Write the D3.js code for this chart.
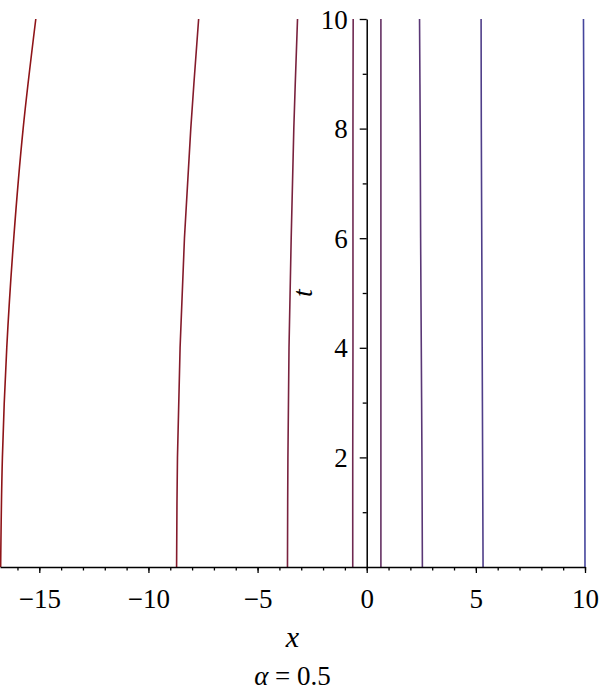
<!DOCTYPE html>
<html>
<head>
<meta charset="utf-8">
<script src="https://cdn.jsdelivr.net/npm/d3@7"></script>
<style>
  body { margin: 0; background: #fff; }
</style>
</head>
<body>
<div id="plotarea"></div>
<script>
var tValues = [0, 2, 4, 6, 8, 10];

// x position of each contour at those t values (left to right)
var contour1 = [-16.77, -16.69, -16.49, -16.17, -15.74, -15.16];
var contour2 = [-8.71, -8.67, -8.55, -8.35, -8.06, -7.70];
var contour3 = [-3.63, -3.61, -3.56, -3.46, -3.34, -3.17];
var contour4 = [-0.64, -0.64, -0.63, -0.63, -0.63, -0.62];
var contour5 = [0.65, 0.65, 0.65, 0.65, 0.65, 0.65];
var contour6 = [2.55, 2.53, 2.50, 2.47, 2.45, 2.42];
var contour7 = [5.33, 5.31, 5.29, 5.27, 5.25, 5.24];
var contour8 = [10.0, 9.99, 9.98, 9.96, 9.95, 9.93];

var contours = [contour1, contour2, contour3, contour4, contour5, contour6, contour7, contour8];

var xMajor = [-15, -10, -5, 0, 5, 10];
var xMinor = d3.range(-16, 11);
var tMajor = [2, 4, 6, 8, 10];
var tMinor = [1, 3, 5, 7, 9];

var serif = '"Times New Roman", "Liberation Serif", Tinos, serif';

var svg = d3.select('#plotarea').append('svg')
  .attr('width', 600)
  .attr('height', 697);

var xScale = d3.scaleLinear().domain([-16.8, 10]).range([0, 585]);
var yScale = d3.scaleLinear().domain([0, 10]).range([567, 19]);

var colour = d3.scaleLinear()
  .domain([0, contours.length - 1])
  .range(['#8e1418', '#45459c'])
  .interpolate(d3.interpolateRgb);

var contourLine = d3.line()
  .x(function(d) { return xScale(d[0]); })
  .y(function(d) { return yScale(d[1]); })
  .curve(d3.curveCatmullRom);

svg.append('g').selectAll('path')
  .data(contours)
  .enter()
  .append('path')
  .attr('d', function(c) { return contourLine(c.map(function(v, i) { return [v, tValues[i]]; })); })
  .attr('fill', 'none')
  .attr('stroke', function(c, i) { return colour(i); })
  .attr('stroke-width', 1.6);

// x axis: minor ticks then major ticks with labels
var xAxisG = svg.append('g').attr('transform', 'translate(0,' + yScale(0) + ')');

xAxisG.append('g')
  .call(d3.axisBottom(xScale).tickValues(xMinor).tickSize(3.5).tickSizeOuter(0).tickFormat(''))
  .call(function(g) { g.select('.domain').remove(); });

xAxisG.append('g')
  .call(d3.axisBottom(xScale).tickValues(xMajor).tickSize(6).tickSizeOuter(0))
  .call(function(g) {
    g.select('.domain').attr('stroke-width', 1.5);
    g.selectAll('text')
      .attr('y', 22)
      .attr('dy', '0.71em')
      .style('font-family', serif)
      .style('font-size', '27px');
  });

xAxisG.selectAll('.tick line').attr('stroke-width', 1.3);

// t axis sits at x = 0
var yAxisG = svg.append('g').attr('transform', 'translate(' + xScale(0) + ',0)');

yAxisG.append('g')
  .call(d3.axisLeft(yScale).tickValues(tMinor).tickSize(4).tickSizeOuter(0).tickFormat(''))
  .call(function(g) { g.select('.domain').remove(); });

yAxisG.append('g')
  .call(d3.axisLeft(yScale).tickValues(tMajor).tickSize(7).tickSizeOuter(0))
  .call(function(g) {
    g.select('.domain').attr('stroke-width', 1.5);
    g.selectAll('text')
      .attr('x', -19)
      .attr('dy', '0.34em')
      .style('font-family', serif)
      .style('font-size', '27px');
  });

yAxisG.selectAll('.tick line').attr('stroke-width', 1.3);

// axis titles
svg.append('text')
  .attr('x', 292.5)
  .attr('y', 647)
  .attr('text-anchor', 'middle')
  .style('font-family', serif)
  .style('font-size', '30px')
  .style('font-style', 'italic')
  .text('x');

svg.append('text')
  .attr('transform', 'translate(312,' + ((yScale(0) + yScale(10)) / 2) + ') rotate(-90)')
  .attr('text-anchor', 'middle')
  .style('font-family', serif)
  .style('font-size', '28px')
  .style('font-style', 'italic')
  .text('t');

var caption = svg.append('text')
  .attr('x', 292.5)
  .attr('y', 685)
  .attr('text-anchor', 'middle')
  .style('font-family', serif)
  .style('font-size', '27px');
caption.append('tspan').style('font-style', 'italic').text('α');
caption.append('tspan').text(' = 0.5');
</script>
</body>
</html>
